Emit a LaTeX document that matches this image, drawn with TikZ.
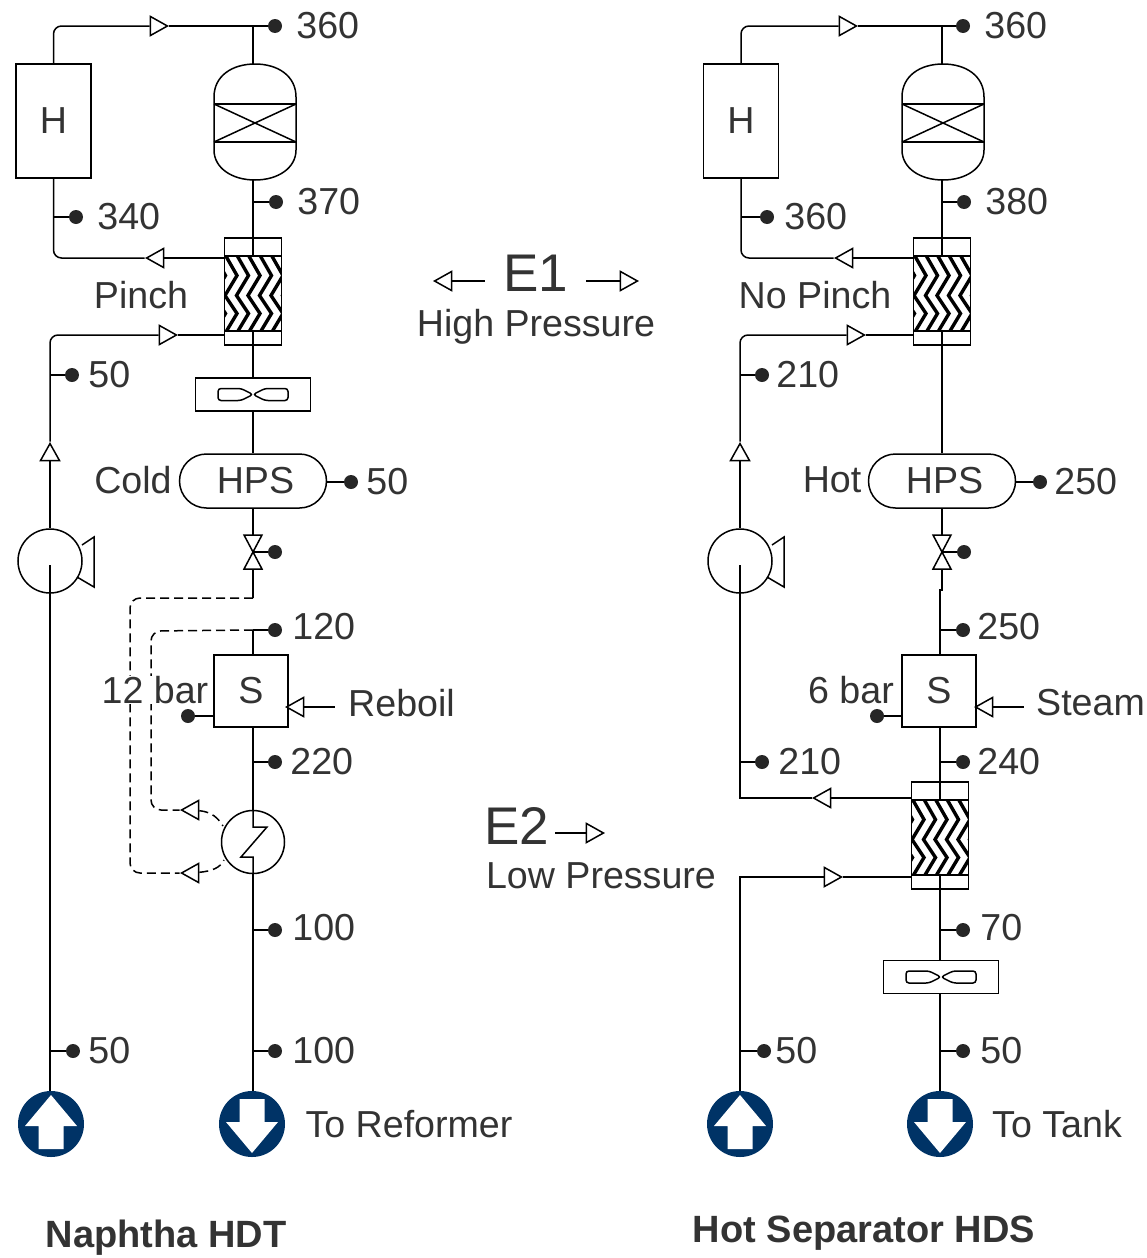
\documentclass[tikz,border=0pt]{standalone}
\usepackage{fontspec}
\setmainfont{Liberation Sans}
\usetikzlibrary{positioning,shapes.geometric,shapes.misc}
\definecolor{portblue}{HTML}{003366}
\definecolor{labelgray}{HTML}{333333}
\tikzset{
  pipe/.style={line width=1.5pt},
  vessel/.style={draw, line width=1.5pt, inner sep=0pt, fill=white, text=labelgray, font=\fontsize{37.6}{40}\selectfont},
  tdot/.style={circle, fill=black!85, inner sep=0pt, minimum size=14pt},
  tlabel/.style={inner sep=0pt, text=labelgray, font=\fontsize{37.6}{40}\selectfont},
  bigtag/.style={inner sep=0pt, text=labelgray, font=\fontsize{53}{56}\selectfont},
  titletag/.style={inner sep=0pt, text=labelgray, font=\bfseries\fontsize{38}{40}\selectfont},
  flow/.style={draw, line width=1.5pt, fill=white, isosceles triangle, isosceles triangle stretches, inner sep=0pt, minimum width=19pt, minimum height=17pt},
  flowright/.style={flow, shape border rotate=0},
  flowleft/.style={flow, shape border rotate=180},
  flowup/.style={flow, shape border rotate=90},
}
% name, x, y
\newcommand{\hexchanger}[3]{
  \node[vessel, minimum width=57pt, minimum height=107pt] (#1) at (#2,#3) {};
  \begin{scope}[shift={(#2,#3)}]
    \draw[pipe] (0,-53.5) -- (0,-36);
    \draw[pipe] (0,38) -- (0,53.5);
    \begin{scope}
      \clip (-28.5,-35.5) rectangle (28.5,39.5);
      \foreach \zx in {-51,-39.5,...,35}
        \draw[line width=3.4pt] (\zx,-37) -- ++(12,21) -- ++(-12,20) -- ++(12,18) -- ++(-12,20);
    \end{scope}
    \draw[pipe] (-28.5,-35.5) rectangle (28.5,39.5);
  \end{scope}
}
% name, x
\newcommand{\reactorvessel}[2]{
  \node[minimum width=82pt, minimum height=116pt, inner sep=0pt] (#1) at (#2,122) {};
  \begin{scope}[shift={(#2,122)}]
    \draw[pipe] (-41,-25) .. controls (-41,-46) and (-23,-58) .. (0,-58) .. controls (23,-58) and (41,-46) .. (41,-25)
      -- (41,28) .. controls (41,46) and (23,58) .. (0,58) .. controls (-23,58) and (-41,46) .. (-41,28) -- cycle;
    \draw[line width=2pt] (-41,-18) -- (41,-18) (-41,20) -- (41,20);
    \draw[pipe] (-41,-18) -- (41,20) (-41,20) -- (41,-18);
  \end{scope}
}
% name, x, y
\newcommand{\aircooler}[3]{
  \node[vessel, minimum width=115pt, minimum height=33pt] (#1) at (#2,#3) {};
  \begin{scope}[shift={(#2,#3)}]
    \foreach \zs in {-1,1}
      \draw[pipe, rounded corners=3pt] (0,0) -- (\zs*12,-6) -- (\zs*35,-6) -- (\zs*35,6) -- (\zs*12,6) -- cycle;
  \end{scope}
}
% name, x, y
\newcommand{\letdown}[3]{
  \node[minimum width=18pt, minimum height=34pt, inner sep=0pt] (#1) at (#2,#3) {};
  \begin{scope}[shift={(#2,#3)}]
    \draw[pipe, fill=white] (-9,-17) -- (9,-17) -- (-9,17) -- (9,17) -- cycle;
  \end{scope}
}
% name, x
\newcommand{\pumpbody}[2]{
  \node[draw, circle, line width=1.5pt, inner sep=0pt, minimum size=64pt] (#1) at (#2,561) {};
  \begin{scope}[shift={(#2,561)}]
    \draw[pipe] (32,-16) -- (44,-24) -- (44,26) -- (27,16);
  \end{scope}
}
% name, x, direction (1 up, -1 down)
\newcommand{\feedport}[3]{
  \node[circle, fill=portblue, inner sep=0pt, minimum size=66pt] (#1) at (#2,1124) {};
  \begin{scope}[shift={(#2,1124)}, yscale=#3]
    \fill[white] (0,-29) -- (26,2) -- (12.5,2) -- (12.5,25) -- (-12.5,25) -- (-12.5,2) -- (-26,2) -- cycle;
  \end{scope}
}
% [label options], name, x on line, x of dot, y, gap, text
\newcommand{\tapdot}[7][]{
  \coordinate (#2tap) at (#3,#5);
  \node[tdot] (#2) at (#4,#5) {};
  \draw[pipe] (#2tap) -- (#2);
  \node[tlabel, right=#6pt of #2, #1] (#2text) {#7};
}
\begin{document}
\begin{tikzpicture}[x=1pt,y=-1pt]
\useasboundingbox (0,0) rectangle (1147,1258);

% Naphtha HDT
\node[vessel, minimum width=75pt, minimum height=114pt] (heaterL) at (53.5,121) {\raisebox{-2pt}{H}};
\reactorvessel{reactorL}{255}
\hexchanger{hexL}{253}{291.5}
\aircooler{fanL}{253}{394.5}
\node[vessel, rounded rectangle, minimum width=147pt, minimum height=54pt] (hpsL) at (253,481) {\kern5pt\raisebox{-1pt}{HPS}};
\letdown{valveL}{253}{552}
\node[vessel, minimum width=74pt, minimum height=72pt] (sepL) at (251,691) {\raisebox{-1pt}{S}};
\node[draw, circle, line width=1.5pt, inner sep=0pt, minimum size=63pt] (rebL) at (253,842) {};
\pumpbody{pumpL}{50}
\feedport{feedL}{51}{1}
\feedport{prodL}{252}{-1}

\tapdot{d360L}{253}{275}{26}{14}{360}
\tapdot{d370L}{253}{276}{202}{14}{370}
\tapdot{d340L}{53}{76}{217}{14}{340}
\tapdot{d50aL}{50}{72}{375}{9}{50}
\tapdot[yshift=3pt]{d120L}{253}{275}{630}{10}{120}
\tapdot{d220L}{253}{275}{762}{8}{220}
\tapdot[yshift=2pt]{d100aL}{253}{275}{930}{10}{100}
\tapdot{d100bL}{253}{275}{1051}{10}{100}
\tapdot{d50bL}{50}{73}{1051}{8}{50}
\tapdot{d50cL}{327}{351}{482}{8}{50}
\node[tdot] (dvalveL) at (275,552) {};
\node[tdot] (dsepL) at (188,716) {};

\node[flowright] (fa1L) at (156,26) {};
\node[flowleft] (fa2L) at (158,258) {};
\node[flowright] (fa3L) at (165,335) {};
\node[flowup] (fa4L) at (50,455) {};
\node[flowleft] (fa5L) at (193,810) {};
\node[flowleft] (fa6L) at (193,873) {};
\node[flowleft] (fa7L) at (298,707) {};
\coordinate (reboilL) at (335,707);
\coordinate (pumpinL) at (50,565);
\coordinate (splitL) at (253,598);

\draw[pipe, rounded corners=8pt] (heaterL.north) |- (fa1L);
\draw[pipe] (fa1L) -- (d360L);
\draw[pipe] (d360Ltap |- reactorL.north) -- (d360Ltap);
\draw[pipe] (d360Ltap |- reactorL.south) -- (hexL.north);
\draw[pipe] (hexL.west |- fa2L) -- (fa2L);
\draw[pipe, rounded corners=8pt] (fa2L) -| (heaterL.south);
\draw[pipe] (hexL.west |- fa3L) -- (fa3L);
\draw[pipe, rounded corners=8pt] (fa3L) -| (fa4L);
\draw[pipe] (fa4L) -- (pumpL.north);
\draw[pipe] (pumpinL |- feedL.north) -- (pumpinL);
\draw[pipe] (hexL.south) -- (fanL.north);
\draw[pipe] (fanL.south) -- (hpsL.north);
\draw[pipe] (hpsL.south) -- (valveL.north);
\draw[pipe] (valveL.south) -- (splitL);
\draw[pipe] (valveL.center) -- (dvalveL);
\draw[pipe, dashed, dash pattern=on 9pt off 5pt, rounded corners=10pt] (splitL) -- (130,598) -- (130,873) -- (fa6L);
\draw[pipe, dashed, dash pattern=on 9pt off 5pt, rounded corners=10pt] (d120Ltap) -- (151,631) -- (151,810) -- (fa5L);
\draw[pipe, dashed, dash pattern=on 9pt off 5pt] (fa5L) .. controls (212,812) and (218,818) .. (223,826);
\draw[pipe, dashed, dash pattern=on 9pt off 5pt] (fa6L) .. controls (212,871) and (220,868) .. (224,860);
\draw[pipe] (d120Ltap) -- (sepL.north -| d120Ltap);
\draw[pipe] (sepL.south -| d120Ltap) -- (rebL.north);
\draw[pipe] (rebL.north) -- (253,827) -- (267,827) -- (241,857) -- (253,857) -- (rebL.south);
\draw[pipe] (rebL.south) -- (d100bLtap |- prodL.north);
\draw[pipe] (dsepL) -- (dsepL -| sepL.west);
\draw[pipe] (fa7L) -- (reboilL);
\node[tlabel, fill=white] (barL) at (155,690) {12 bar};
\node[tlabel, anchor=west] (reboiltext) at (348,703) {Reboil};
\node[tlabel] (pinchL) at (141,295) {Pinch};
\node[tlabel] (coldL) at (133,480) {Cold};
\node[tlabel] (toL) at (409,1124) {To Reformer};
\node[titletag] (titleL) at (166,1238) {Naphtha HDT};

% Hot Separator HDS
\node[vessel, minimum width=75pt, minimum height=114pt] (heaterR) at (741,121) {\raisebox{-2pt}{H}};
\reactorvessel{reactorR}{943}
\hexchanger{hexR}{942}{291.5}
\node[vessel, rounded rectangle, minimum width=147pt, minimum height=54pt] (hpsR) at (942,481) {\kern5pt\raisebox{-1pt}{HPS}};
\letdown{valveR}{942}{552}
\node[vessel, minimum width=74pt, minimum height=72pt] (sepR) at (939,691) {\raisebox{-1pt}{S}};
\hexchanger{hexbR}{940}{835.5}
\aircooler{fanR}{941}{977}
\pumpbody{pumpR}{740}
\feedport{feedR}{740}{1}
\feedport{prodR}{940}{-1}

\tapdot{d360R}{942}{963}{26}{14}{360}
\tapdot{d380R}{942}{964}{202}{14}{380}
\tapdot{d360bR}{741}{767}{217}{10}{360}
\tapdot{d210aR}{740}{762}{375}{7}{210}
\tapdot[yshift=3pt]{d250bR}{940}{963}{630}{7}{250}
\tapdot{d240R}{940}{963}{762}{7}{240}
\tapdot{d210bR}{740}{762}{762}{9}{210}
\tapdot[yshift=2pt]{d70R}{940}{963}{930}{10}{70}
\tapdot{d50aR}{940}{963}{1051}{10}{50}
\tapdot{d50bR}{740}{764}{1051}{4}{50}
\tapdot{d250aR}{1016}{1040}{482}{7}{250}
\node[tdot] (dvalveR) at (964,552) {};
\node[tdot] (dsepR) at (877,716) {};

\node[flowright] (fa1R) at (845,26) {};
\node[flowleft] (fa2R) at (847,258) {};
\node[flowright] (fa3R) at (853,335) {};
\node[flowup] (fa4R) at (740,455) {};
\node[flowleft] (fa5R) at (825,798) {};
\node[flowright] (fa6R) at (830,877) {};
\node[flowleft] (fa7R) at (987,707) {};
\coordinate (steamR) at (1024,707);
\coordinate (pumpinR) at (740,565);

\draw[pipe, rounded corners=8pt] (heaterR.north) |- (fa1R);
\draw[pipe] (fa1R) -- (d360R);
\draw[pipe] (d360Rtap |- reactorR.north) -- (d360Rtap);
\draw[pipe] (d360Rtap |- reactorR.south) -- (hexR.north);
\draw[pipe] (hexR.west |- fa2R) -- (fa2R);
\draw[pipe, rounded corners=8pt] (fa2R) -| (heaterR.south);
\draw[pipe] (hexR.west |- fa3R) -- (fa3R);
\draw[pipe, rounded corners=8pt] (fa3R) -| (fa4R);
\draw[pipe] (fa4R) -- (pumpR.north);
\draw[pipe] (pumpinR) -- (pumpinR |- fa5R) -- (fa5R);
\draw[pipe] (hexbR.west |- fa5R) -- (fa5R);
\draw[pipe] (feedR) -- (feedR |- fa6R) -- (fa6R);
\draw[pipe] (fa6R) -- (hexbR.west |- fa6R);
\draw[pipe] (hexR.south) -- (hpsR.north);
\draw[pipe] (hpsR.south) -- (valveR.north);
\draw[pipe] (valveR.south) -- ++(0,21) -- ++(-2,0) -- (sepR.north -| d250bRtap);
\draw[pipe] (valveR.center) -- (dvalveR);
\draw[pipe] (sepR.south -| d240Rtap) -- (hexbR.north);
\draw[pipe] (hexbR.south) -- (fanR.north -| hexbR);
\draw[pipe] (fanR.south -| prodR) -- (prodR);
\draw[pipe] (dsepR) -- (dsepR -| sepR.west);
\draw[pipe] (fa7R) -- (steamR);
\node[tlabel] (barR) at (851,690) {6 bar};
\node[tlabel, anchor=west] (steamtext) at (1036,703) {Steam};
\node[tlabel] (pinchR) at (815,295) {No Pinch};
\node[tlabel] (hotR) at (832,480) {Hot};
\node[tlabel] (toR) at (1057,1124) {To Tank};
\node[titletag] (titleR) at (864,1233) {Hot Separator HDS};

% E1 and E2
\node[bigtag] (eone) at (536,273) {E1};
\node[tlabel] (highp) at (536,327) {High Pressure};
\node[flowleft] (eoneL) at (446,281) {};
\node[flowright] (eoneR) at (626,281) {};
\coordinate (eoneLend) at (485,281);
\coordinate (eoneRend) at (586,281);
\draw[pipe] (eoneL) -- (eoneLend);
\draw[pipe] (eoneRend) -- (eoneR);
\node[bigtag] (etwo) at (517,826) {E2};
\node[tlabel] (lowp) at (601,876) {Low Pressure};
\node[flowright] (etwoR) at (592,833) {};
\coordinate (etwoend) at (555,833);
\draw[pipe] (etwoend) -- (etwoR);
\end{tikzpicture}
\end{document}
